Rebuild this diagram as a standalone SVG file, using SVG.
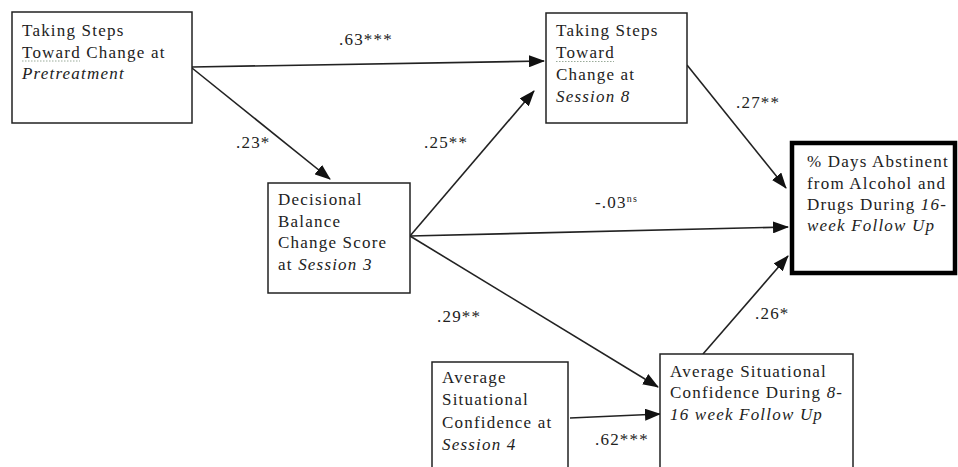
<svg xmlns="http://www.w3.org/2000/svg" width="958" height="467" viewBox="0 0 958 467">
<style>
.box{fill:#fff;stroke:#222;stroke-width:1.5}
.thick{fill:#fff;stroke:#000;stroke-width:4.5}
.t{font-family:"Liberation Serif","Times New Roman",serif;font-size:17px;letter-spacing:1.2px;fill:#222}
.i{font-style:italic}
.lbl{font-family:"Liberation Serif","Times New Roman",serif;font-size:17px;letter-spacing:1.2px;fill:#222}
.c{stroke:#222;stroke-width:1.6;fill:none;marker-end:url(#ah)}
.sq{stroke:#9a9;stroke-width:1;stroke-dasharray:1.5 1.5;fill:none}
</style>
<defs>
<marker id="ah" markerWidth="16" markerHeight="12" refX="15" refY="6" orient="auto" markerUnits="userSpaceOnUse">
<path d="M0,0 L16,6 L0,12 Z" fill="#111"/>
</marker>
</defs>
<rect width="958" height="467" fill="#fff"/>
<g id="connectors">
<line class="c" x1="192" y1="67" x2="544" y2="61"/>
<line class="c" x1="192" y1="68" x2="330" y2="179"/>
<line class="c" x1="410" y1="236" x2="534" y2="91"/>
<line class="c" x1="410" y1="236" x2="788" y2="227"/>
<line class="c" x1="687" y1="65" x2="786" y2="188"/>
<line class="c" x1="410" y1="236" x2="658" y2="387"/>
<line class="c" x1="570" y1="418" x2="660" y2="414"/>
<line class="c" x1="703" y1="354" x2="788" y2="256"/>
<text class="lbl" x="339" y="45">.63***</text>
<text class="lbl" x="236" y="148">.23*</text>
<text class="lbl" x="424" y="148">.25**</text>
<text class="lbl" x="595" y="208">-.03<tspan font-size="10" dy="-6">ns</tspan></text>
<text class="lbl" x="736" y="108">.27**</text>
<text class="lbl" x="437" y="322">.29**</text>
<text class="lbl" x="595" y="445">.62***</text>
<text class="lbl" x="755" y="319">.26*</text>
</g>
<g id="n-pre">
<rect class="box" x="12" y="12" width="180" height="111"/>
<text class="t" x="22" y="36">Taking Steps</text>
<text class="t" x="22" y="57.5">Toward Change at</text>
<path class="sq" d="M22,61 L80,61"/>
<text class="t i" x="22" y="79">Pretreatment</text>
</g>
<g id="n-s8">
<rect class="box" x="546" y="13" width="141" height="110"/>
<text class="t" x="556" y="36">Taking Steps</text>
<text class="t" x="556" y="58">Toward</text>
<path class="sq" d="M556,61.5 L614,61.5"/>
<text class="t" x="556" y="80">Change at</text>
<text class="t i" x="556" y="102">Session 8</text>
</g>
<g id="n-outcome">
<rect class="thick" x="792" y="143" width="163" height="130"/>
<text class="t" x="807" y="167">% Days Abstinent</text>
<text class="t" x="807" y="189">from Alcohol and</text>
<text class="t" x="807" y="210">Drugs During <tspan class="i">16-</tspan></text>
<text class="t i" x="807" y="231">week Follow Up</text>
</g>
<g id="n-db">
<rect class="box" x="268" y="183" width="142" height="110"/>
<text class="t" x="278" y="205">Decisional</text>
<text class="t" x="278" y="227">Balance</text>
<text class="t" x="278" y="248">Change Score</text>
<text class="t" x="278" y="270">at <tspan class="i">Session 3</tspan></text>
</g>
<g id="n-sc4">
<rect class="box" x="432" y="362" width="136" height="120"/>
<text class="t" x="442" y="383">Average</text>
<text class="t" x="442" y="405">Situational</text>
<text class="t" x="442" y="428">Confidence at</text>
<text class="t i" x="442" y="450">Session 4</text>
</g>
<g id="n-sc816">
<rect class="box" x="660" y="354" width="193" height="120"/>
<text class="t" x="670" y="377">Average Situational</text>
<text class="t" x="670" y="398">Confidence During <tspan class="i">8-</tspan></text>
<text class="t i" x="670" y="420">16 week Follow Up</text>
</g>
</svg>
